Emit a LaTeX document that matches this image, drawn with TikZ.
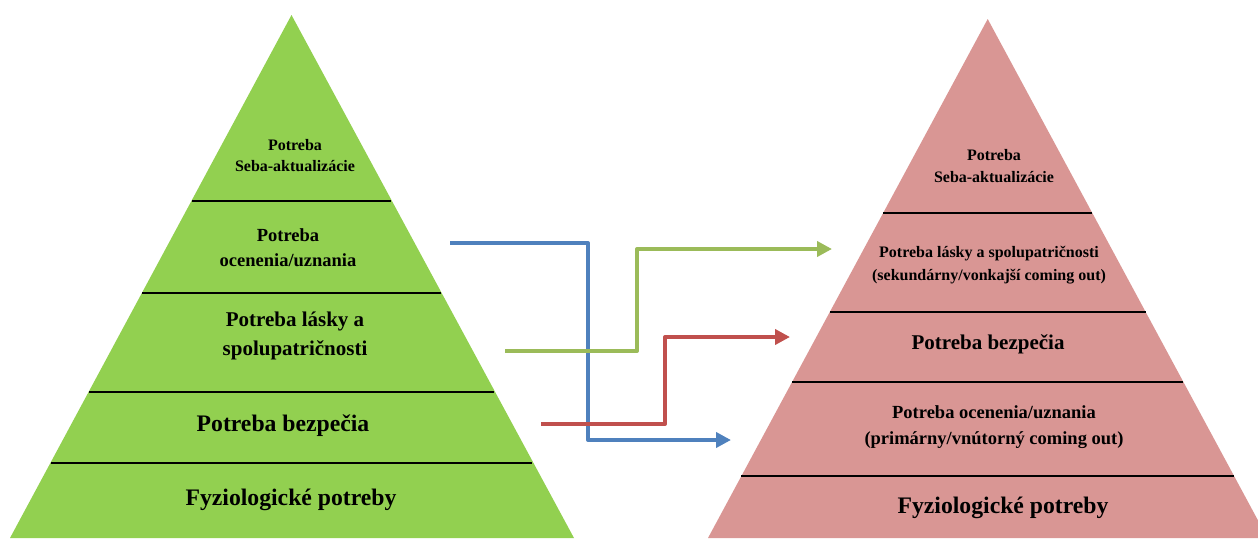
\documentclass[tikz,border=0pt]{standalone}
\usepackage{fontspec}
\setmainfont{Liberation Serif}
\usetikzlibrary{arrows.meta}
\definecolor{pyrgreen}{HTML}{92D050}
\definecolor{pyrpink}{HTML}{D99694}
\definecolor{arrblue}{HTML}{4F81BD}
\definecolor{arrgreen}{HTML}{9BBB59}
\definecolor{arrred}{HTML}{C0504D}

\begin{document}
\begin{tikzpicture}[x=1pt,y=-1pt,
  lvl/.style={align=center,inner sep=0pt},
  sep/.style={line width=2.2pt},
  link/.style={line width=4pt,line join=round,-{Triangle[length=15pt,width=15pt]}}]
  \useasboundingbox (0,0) rectangle (1258,538);
  \clip (0,0) rectangle (1258,538);

  % pyramids
  \fill[pyrgreen] (291.5,15) -- (574,538) -- (10,538) -- cycle;
  \fill[pyrpink] (987.7,19) -- (1267.5,538) -- (708,538) -- cycle;
  \foreach \y in {201,293,392,463}
    \draw[sep] ({291.5-0.5376*(\y-15)},\y) -- ({291.5+0.5376*(\y-15)},\y);
  \foreach \y in {213,312,382,476}
    \draw[sep] ({987.7-0.539*(\y-19)},\y) -- ({987.7+0.539*(\y-19)},\y);

  % left levels
  \node[lvl,font=\fontsize{16}{21}\selectfont\bfseries] (lSelf) at (295,156) {Potreba\\Seba-aktualizácie};
  \node[lvl,font=\fontsize{18.5}{25}\selectfont\bfseries] (lEsteem) at (288,248) {Potreba\\ocenenia/uznania};
  \node[lvl,font=\fontsize{21}{29}\selectfont\bfseries] (lLove) at (295,336) {Potreba lásky a\\spolupatričnosti};
  \node[lvl,font=\fontsize{23.7}{30}\selectfont\bfseries] (lSafe) at (283,426) {Potreba bezpečia};
  \node[lvl,font=\fontsize{23.7}{30}\selectfont\bfseries] (lPhys) at (291,500) {Fyziologické potreby};

  % right levels
  \node[lvl,font=\fontsize{16}{22}\selectfont\bfseries] (rSelf) at (994,166) {Potreba\\Seba-aktualizácie};
  \node[lvl,font=\fontsize{16}{23}\selectfont\bfseries] (rLove) at (989,265) {Potreba lásky a spolupatričnosti\\(sekundárny/vonkajší coming out)};
  \node[lvl,font=\fontsize{21}{28}\selectfont\bfseries] (rSafe) at (988,344) {Potreba bezpečia};
  \node[lvl,font=\fontsize{18.5}{26}\selectfont\bfseries] (rEsteem) at (994,427) {Potreba ocenenia/uznania\\(primárny/vnútorný coming out)};
  \node[lvl,font=\fontsize{23.7}{30}\selectfont\bfseries] (rPhys) at (1003,508) {Fyziologické potreby};

  % connectors
  \coordinate (bS) at (450,243);  \coordinate (bE) at (731,440);  \coordinate (bBend) at (588,340);
  \coordinate (gS) at (505,351);  \coordinate (gE) at (832,249);  \coordinate (gBend) at (637,300);
  \coordinate (rS) at (541,424);  \coordinate (rE) at (790,337);  \coordinate (rBend) at (665,380);
  \draw[link,arrblue] (bS) -| (bBend) |- (bE);
  \draw[link,arrgreen] (gS) -| (gBend) |- (gE);
  \draw[link,arrred] (rS) -| (rBend) |- (rE);
\end{tikzpicture}
\end{document}
